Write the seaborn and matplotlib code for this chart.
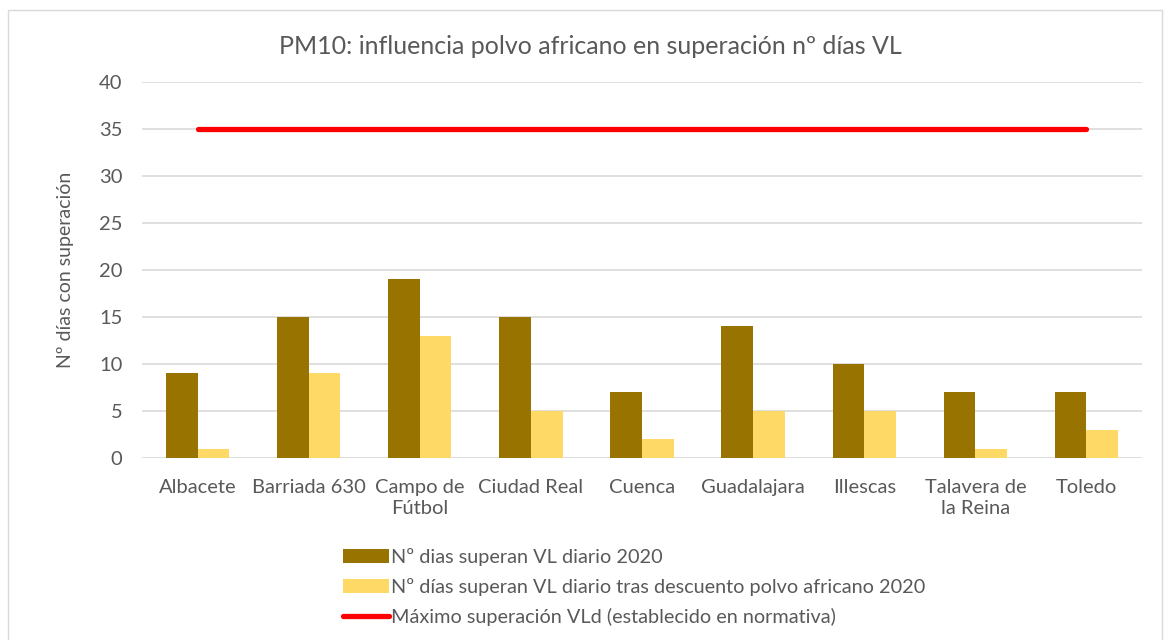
import matplotlib
matplotlib.use("Agg")
import matplotlib.pyplot as plt
import seaborn as sns
import pandas as pd
from matplotlib.patches import Patch, Rectangle
from matplotlib.lines import Line2D

categories = ["Albacete", "Barriada 630", "Campo de\nFútbol", "Ciudad Real", "Cuenca",
              "Guadalajara", "Illescas", "Talavera de\nla Reina", "Toledo"]
dias_2020 = [9, 15, 19, 15, 7, 14, 10, 7, 7]
dias_descuento = [1, 9, 13, 5, 2, 5, 5, 1, 3]
maximo = [35, 35, 35, 35, 35, 35, 35, 35, 35]

s1 = "Nº dias superan VL diario 2020"
s2 = "Nº días superan VL diario tras descuento polvo africano 2020"
s3 = "Máximo superación VLd (establecido en normativa)"

df = pd.DataFrame({
    "cat": categories * 2,
    "val": dias_2020 + dias_descuento,
    "serie": [s1] * len(categories) + [s2] * len(categories),
})

sns.set_theme(style="white")
plt.rcParams["font.family"] = ["Lato", "DejaVu Sans"]
txt = "#595959"

fig = plt.figure(figsize=(11.7, 6.4), dpi=100)
ax = fig.add_axes([142/1170, 182/640, 1000/1170, 376/640])

sns.barplot(data=df, x="cat", y="val", hue="serie", order=categories,
            palette=["#997300", "#FFD966"], width=0.57, saturation=1,
            linewidth=0, ax=ax, legend=False)
ax.plot(range(len(categories)), maximo, color="#FF0000", lw=3.8,
        solid_capstyle="round", zorder=3)

ax.set_xlim(-0.5, len(categories) - 0.5)
ax.set_ylim(0, 40)
ax.set_yticks(range(0, 41, 5))
ax.yaxis.grid(True, color="#D9D9D9", lw=1.2)
ax.set_axisbelow(True)
for sp in ax.spines.values():
    sp.set_visible(False)
ax.tick_params(axis="both", length=0, labelsize=14.5, colors=txt)
ax.tick_params(axis="x", pad=15)
ax.tick_params(axis="y", pad=14)
for lab in ax.get_xticklabels():
    lab.set_linespacing(1.3)
ax.set_xlabel("")
ax.set_ylabel("Nº días con superación", fontsize=14, color=txt, labelpad=18)

fig.text(590/1170, 1 - 47/640, "PM10: influencia polvo africano en superación nº días VL",
         ha="center", va="center", fontsize=18, color=txt)

handles = [Patch(facecolor="#997300", edgecolor="none"),
           Patch(facecolor="#FFD966", edgecolor="none"),
           Line2D([0], [0], color="#FF0000", lw=3.8, solid_capstyle="round")]
fig.legend(handles, [s1, s2, s3], loc="upper left",
           bbox_to_anchor=(335/1170, 1 - 540/640), frameon=False,
           fontsize=14.3, labelcolor=txt, handlelength=2.3, handleheight=0.65,
           handletextpad=0.12, labelspacing=0.6, borderaxespad=0)

fig.patches.append(Rectangle((8/1170, -0.01), 1154/1170, 1 - 10/640 + 0.01,
                             transform=fig.transFigure, fill=False,
                             edgecolor="#D9D9D9", lw=1))

fig.savefig("out.png", dpi=100)
